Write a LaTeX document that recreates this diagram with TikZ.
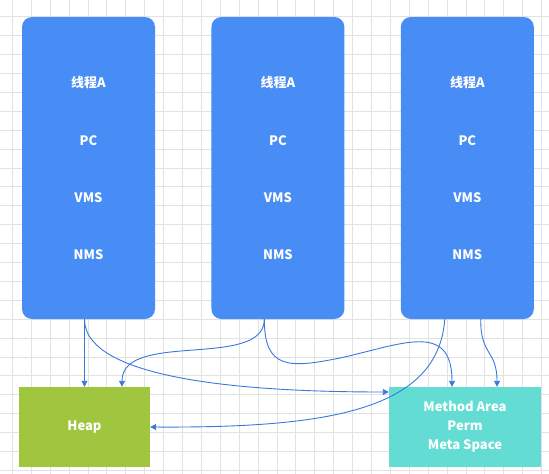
\documentclass[tikz,border=0pt]{standalone}
\usepackage{fontspec}
\setmainfont{Noto Sans CJK SC}
\usetikzlibrary{calc}
\usetikzlibrary{positioning}
\usetikzlibrary{arrows.meta}
\definecolor{threadblue}{HTML}{488DF5}
\definecolor{heapgreen}{HTML}{A0C640}
\definecolor{metateal}{HTML}{63DDD3}
\definecolor{linkblue}{HTML}{3B78D8}
\definecolor{gridgray}{HTML}{E2E2E2}
\tikzset{
  thread/.style={fill=threadblue, rounded corners=10pt, minimum width=133pt, minimum height=302pt, inner sep=0pt},
  area/.style={minimum height=80pt, inner sep=0pt, text=white, font=\bfseries\fontsize{13}{19}\selectfont, align=center},
  lbl/.style={text=white, font=\bfseries\fontsize{13}{16}\selectfont},
  link/.style={draw=linkblue, line width=0.9pt, -{Triangle[length=6pt,width=6pt]}}
}

\begin{document}
\begin{tikzpicture}[x=1pt, y=-1pt]
  \useasboundingbox (0,0) rectangle (549,474);
  % background grid
  \foreach \i in {0,...,28} {
    \draw[gridgray, line width=0.8pt] (12.3+18.9*\i, 0) -- (12.3+18.9*\i, 474);
  }
  \foreach \j in {0,...,24} {
    \draw[gridgray, line width=0.8pt] (0, 16.7+18.9*\j) -- (549, 16.7+18.9*\j);
  }

  \node [thread] (t1) at (88.5,168) {};
  \node [thread, right=56pt of t1] (t2) {};
  \node [thread, right=56pt of t2] (t3) {};

  \foreach \t in {t1,t2,t3} {
    \node [lbl] (\t a) at ($(\t.north)+(0,66)$) {线程A};
    \node [lbl] (\t b) at ($(\t.north)+(0,124)$) {PC};
    \node [lbl] (\t c) at ($(\t.north)+(0,181)$) {VMS};
    \node [lbl] (\t d) at ($(\t.north)+(0,238)$) {NMS};
  }

  \node [area, fill=heapgreen, minimum width=131pt] (heap) at (84.5,427) {Heap};
  \node [area, fill=metateal, minimum width=152pt] (meta) at (465,427) {Method Area\\Perm\\Meta Space};

  \draw [link] (t1.south -| heap.north) -- (heap.north);
  \draw [link] (t1.south -| heap.north) .. controls (84.5,370) and (200,392) .. ($(meta.west)+(0,-35)$);
  \draw [link] ($(t2.south)+(-13.5,0)$) .. controls (264,370) and (122,330) .. ($(heap.north)+(37.5,0)$);
  \draw [link] ($(t2.south)+(-13.5,0)$) .. controls (264,370) and (290,368) .. (340,358)
    .. controls (400,345) and (452,320) .. ($(meta.north)+(-13,0)$);
  \draw [link] ($(t3.south)+(-22.5,0)$) .. controls (438,410) and (330,428) .. (heap.east);
  \draw [link] ($(t3.south)+(13.5,0)$) .. controls (480,355) and (497,350) .. ($(meta.north)+(32,0)$);
\end{tikzpicture}
\end{document}
